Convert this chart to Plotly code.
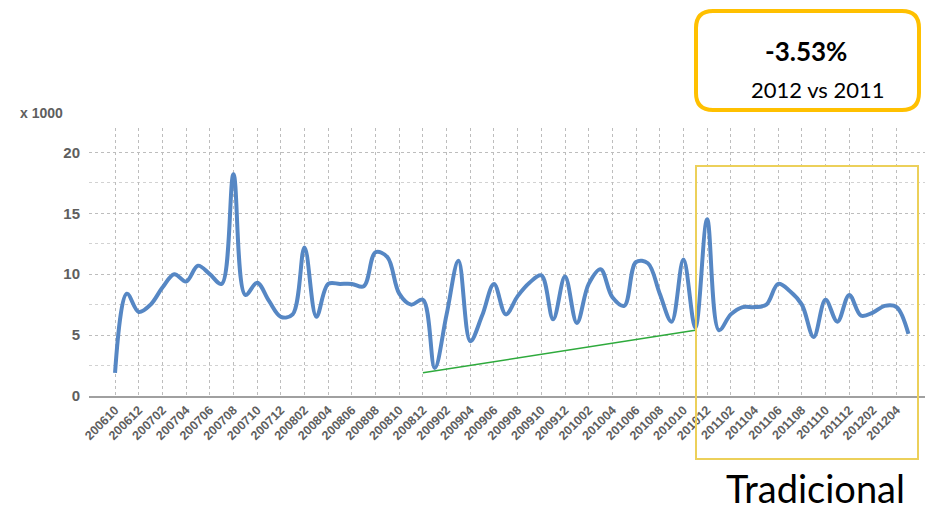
import plotly.graph_objects as go

# ---------------- data ----------------
months = []
y, m = 2006, 10
while (y, m) <= (2012, 5):
    months.append(f"{y}{m:02d}")
    m += 1
    if m > 12:
        m = 1
        y += 1

values = [1.9, 8.4, 6.9, 7.5, 8.9, 10.0, 9.4, 10.7, 10.0, 9.2,
          18.2, 8.3, 9.3, 7.8, 6.5, 6.7, 12.2, 6.5, 9.2, 9.2,
          9.2, 9.0, 11.8, 11.4, 8.4, 7.5, 7.9, 2.3, 6.7, 11.1,
          4.5, 6.6, 9.2, 6.7, 8.2, 9.3, 9.9, 6.3, 9.8, 6.0,
          9.2, 10.4, 8.1, 7.4, 11.0, 10.9, 8.4, 6.1, 11.2, 5.6,
          14.5, 5.4, 6.7, 7.3, 7.3, 7.5, 9.2, 8.6, 7.5, 4.85,
          7.9, 6.1, 8.3, 6.6, 6.85, 7.4, 7.3, 5.1]

tick_labels = months[0:67:2]  # 200610 ... 201204

trend_months = ["200812", "201011"]
trend_values = [1.9, 5.4]

y_ticks = [0, 5, 10, 15, 20]

headline = "-3.53%"
subline = "2012 vs 2011"
segment = "Tradicional"

# ---------------- figure ----------------
W, H = 930, 513
ML, MR, MT, MB = 89, 5, 128, 117
PW, PH = W - ML - MR, H - MT - MB

def px2paper(px, py):
    return (px - ML) / PW, (H - MB - py) / PH

idx = list(range(len(months)))
pos = {mo: i for i, mo in enumerate(months)}

GRAY = "#5e5e5e"
AXFONT = "Liberation Sans, Arial, sans-serif"

fig = go.Figure()

fig.add_trace(go.Scatter(
    x=idx, y=values, mode="lines",
    line=dict(color="#5687c4", width=4, shape="spline", smoothing=1.0),
    hoverinfo="skip", showlegend=False,
))

fig.add_trace(go.Scatter(
    x=[pos[mo] for mo in trend_months], y=trend_values, mode="lines",
    line=dict(color="#2eaa3c", width=1.5),
    hoverinfo="skip", showlegend=False,
))

fig.update_layout(
    width=W, height=H,
    margin=dict(l=ML, r=MR, t=MT, b=MB, pad=0),
    paper_bgcolor="white", plot_bgcolor="white",
    font=dict(family=AXFONT),
)

fig.update_xaxes(
    range=[-2.2, 68.4],
    tickvals=[pos[t] for t in tick_labels],
    ticktext=tick_labels,
    tickangle=-45,
    tickfont=dict(size=12.5, color=GRAY, family=AXFONT, weight="bold"),
    showgrid=True, gridcolor="#bdbdbd", griddash="dot", gridwidth=1,
    showline=True, linecolor="#a0a0a0", linewidth=2,
    ticks="", zeroline=False,
)

fig.update_yaxes(
    range=[0, 22],
    tickvals=y_ticks,
    tickfont=dict(size=15, color=GRAY, family=AXFONT, weight="bold"),
    ticklabelstandoff=8,
    showgrid=True, gridcolor="#bdbdbd", griddash="dot", gridwidth=1,
    minor=dict(dtick=2.5, showgrid=True, gridcolor="#d2d2d2", griddash="dot", gridwidth=1),
    zeroline=False, showline=False, ticks="",
)

# "x 1000" unit label
ux, uy = px2paper(41, 113)
fig.add_annotation(x=ux, y=uy, xref="paper", yref="paper", text="x 1000",
                   showarrow=False, xanchor="center", yanchor="middle",
                   font=dict(size=14, color=GRAY, family=AXFONT, weight="bold"))

# yellow highlight rectangle
x0, y0 = px2paper(696, 166)
x1, y1 = px2paper(918, 459)
fig.add_shape(type="rect", xref="paper", yref="paper", x0=x0, y0=y1, x1=x1, y1=y0,
              line=dict(color="#ecd05a", width=2), fillcolor="rgba(0,0,0,0)", layer="above")

# orange rounded box
bx0, by0, bx1, by1, r = 696, 11, 919, 110, 17
def P(px, py):
    a, b = px2paper(px, py)
    return f"{a:.5f},{b:.5f}"
path = (f"M {P(bx0 + r, by0)} L {P(bx1 - r, by0)} Q {P(bx1, by0)} {P(bx1, by0 + r)} "
        f"L {P(bx1, by1 - r)} Q {P(bx1, by1)} {P(bx1 - r, by1)} "
        f"L {P(bx0 + r, by1)} Q {P(bx0, by1)} {P(bx0, by1 - r)} "
        f"L {P(bx0, by0 + r)} Q {P(bx0, by0)} {P(bx0 + r, by0)} Z")
fig.add_shape(type="path", xref="paper", yref="paper", path=path,
              line=dict(color="#ffc000", width=4), fillcolor="white", layer="above")

hx, hy = px2paper(806, 51)
fig.add_annotation(x=hx, y=hy, xref="paper", yref="paper", text=f"<b>{headline}</b>",
                   showarrow=False, xanchor="center", yanchor="middle",
                   font=dict(size=26, color="black", family="Lato, Open Sans, sans-serif"))
sx, sy = px2paper(817, 90)
fig.add_annotation(x=sx, y=sy, xref="paper", yref="paper", text=subline,
                   showarrow=False, xanchor="center", yanchor="middle",
                   font=dict(size=22, color="black", family="Lato, Open Sans, sans-serif"))

tx, ty = px2paper(815, 488)
fig.add_annotation(x=tx, y=ty, xref="paper", yref="paper", text=segment,
                   showarrow=False, xanchor="center", yanchor="middle",
                   font=dict(size=38, color="black", family="Lato, Open Sans, sans-serif"))

fig.write_html("out.html")
